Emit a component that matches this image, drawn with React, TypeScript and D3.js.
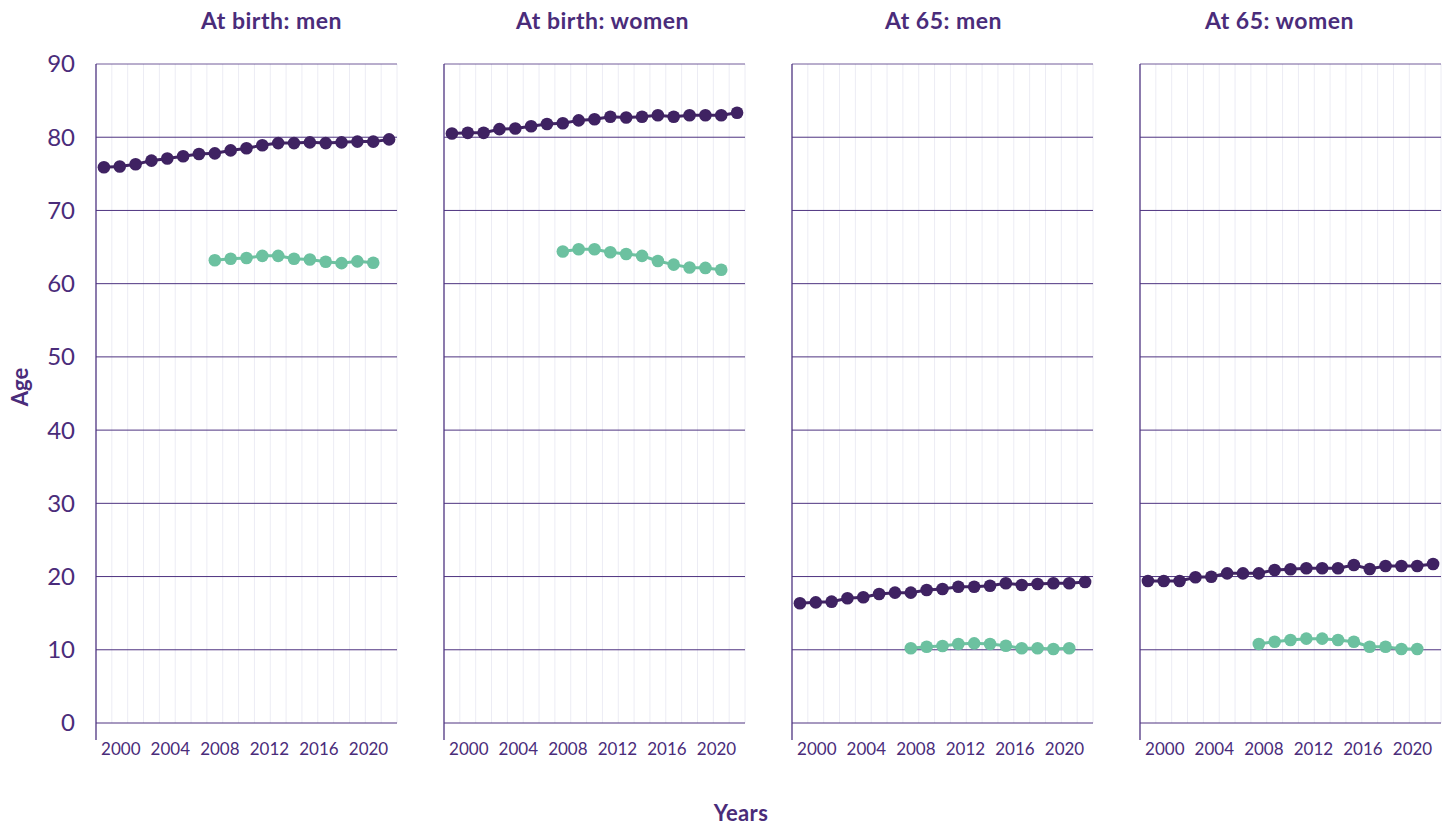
import React from "react";
import * as d3 from "d3";

// ---- data ----
const periods: string[] = [
  "P01", "P02", "P03", "P04", "P05", "P06", "P07", "P08", "P09", "P10",
  "P11", "P12", "P13", "P14", "P15", "P16", "P17", "P18", "P19",
];
const panelTitles: string[] = ["At birth: men", "At birth: women", "At 65: men", "At 65: women"];

// life expectancy (purple), all 19 periods
const leBirthMen: number[] = [75.9, 76.0, 76.3, 76.8, 77.1, 77.4, 77.7, 77.8, 78.2, 78.5, 78.9, 79.2, 79.2, 79.3, 79.2, 79.3, 79.4, 79.4, 79.7];
const leBirthWomen: number[] = [80.5, 80.6, 80.6, 81.1, 81.2, 81.5, 81.8, 81.9, 82.3, 82.45, 82.8, 82.7, 82.8, 83.0, 82.8, 83.0, 83.0, 83.0, 83.35];
const le65Men: number[] = [16.35, 16.48, 16.57, 17.03, 17.17, 17.62, 17.8, 17.8, 18.16, 18.3, 18.6, 18.6, 18.75, 19.08, 18.85, 18.98, 19.08, 19.08, 19.26];
const le65Women: number[] = [19.39, 19.39, 19.39, 19.9, 19.98, 20.44, 20.44, 20.44, 20.9, 20.99, 21.13, 21.13, 21.13, 21.58, 21.03, 21.44, 21.44, 21.44, 21.72];

// healthy life expectancy (green), periods 8..18
const hleStart = 7;
const hleBirthMen: number[] = [63.2, 63.4, 63.5, 63.8, 63.8, 63.4, 63.3, 63.0, 62.8, 63.05, 62.85];
const hleBirthWomen: number[] = [64.4, 64.7, 64.7, 64.3, 64.05, 63.8, 63.1, 62.6, 62.2, 62.15, 61.9];
const hle65Men: number[] = [10.2, 10.42, 10.52, 10.79, 10.88, 10.79, 10.56, 10.2, 10.2, 10.1, 10.2];
const hle65Women: number[] = [10.79, 11.1, 11.34, 11.52, 11.52, 11.34, 11.1, 10.42, 10.42, 10.11, 10.11];

const yTicks: number[] = [0, 10, 20, 30, 40, 50, 60, 70, 80, 90];
const xTickYears: number[] = [2000, 2004, 2008, 2012, 2016, 2020];

const leSeries: number[][] = [leBirthMen, leBirthWomen, le65Men, le65Women];
const hleSeries: number[][] = [hleBirthMen, hleBirthWomen, hle65Men, hle65Women];

// ---- styling / layout ----
const W = 1445;
const H = 826;
const PURPLE = "#3f2262";
const GREEN = "#6cc1a0";
const TEXT = "#4a2c7a";
const GRID_H = "#4e3380";
const GRID_V = "#ececf4";
const panelStep = 348;
const panelLeft0 = 96;
const panelW = 301;
const yTop = 64;
const yBottom = 723;
const titleOffsets = [25, 8, 1, -11];
const FONT = "Lato, 'Open Sans', sans-serif";

export default function App() {
  const y = d3.scaleLinear().domain([0, 90]).range([yBottom, yTop]);
  const band = d3.scaleBand<string>().domain(periods).range([0, panelW]).padding(0);
  const bw = band.bandwidth();
  const xYear = d3.scaleLinear().domain([1998, 2022.3]).range([0, panelW]);
  const cx = (p: string) => (band(p) as number) + bw / 2;

  const line = d3
    .line<{ p: string; v: number }>()
    .x((d) => cx(d.p))
    .y((d) => y(d.v));

  const edges = periods.map((p) => band(p) as number).concat([panelW]);

  return (
    <svg
      width={W}
      height={H}
      style={{ position: "absolute", left: 0, top: 0, background: "#fff" }}
      fontFamily={FONT}
    >
      {panelTitles.map((title, i) => {
        const left = panelLeft0 + i * panelStep;
        const le = leSeries[i].map((v, k) => ({ p: periods[k], v }));
        const hle = hleSeries[i].map((v, k) => ({ p: periods[k + hleStart], v }));
        return (
          <g key={title} transform={`translate(${left},0)`}>
            {edges.slice(1).map((e, k) => (
              <line key={"v" + k} x1={e} x2={e} y1={yTop} y2={yBottom} stroke={GRID_V} strokeWidth={1} />
            ))}
            {yTicks.map((t) => (
              <line
                key={"h" + t}
                x1={0}
                x2={panelW}
                y1={y(t)}
                y2={y(t)}
                stroke={GRID_H}
                strokeWidth={t === 90 ? 0.8 : 1}
              />
            ))}
            <line x1={0} x2={0} y1={yTop} y2={740} stroke={GRID_H} strokeWidth={1.3} />
            {xTickYears.map((yr) => (
              <text key={yr} x={xYear(yr)} y={755} textAnchor="middle" fontSize={17} fill={TEXT}>
                {yr}
              </text>
            ))}
            <path d={line(hle) || ""} fill="none" stroke={GREEN} strokeWidth={3} />
            {hle.map((d) => (
              <circle key={"g" + d.p} cx={cx(d.p)} cy={y(d.v)} r={6.3} fill={GREEN} />
            ))}
            <path d={line(le) || ""} fill="none" stroke={PURPLE} strokeWidth={3} />
            {le.map((d) => (
              <circle key={"p" + d.p} cx={cx(d.p)} cy={y(d.v)} r={6.3} fill={PURPLE} />
            ))}
            <text
              x={panelW / 2 + titleOffsets[i]}
              y={29}
              textAnchor="middle"
              fontSize={23}
              letterSpacing={0.5}
              fontWeight={700}
              fill={TEXT}
            >
              {title}
            </text>
          </g>
        );
      })}
      {yTicks.map((t) => (
        <text key={"yl" + t} x={75} y={y(t)} dy="0.35em" textAnchor="end" fontSize={24} fill={TEXT}>
          {t}
        </text>
      ))}
      <text
        transform={`translate(28,387) rotate(-90)`}
        textAnchor="middle"
        fontSize={22}
        fontWeight={700}
        fill={TEXT}
      >
        Age
      </text>
      <text x={741} y={821} textAnchor="middle" fontSize={22} fontWeight={700} letterSpacing={0.4} fill={TEXT}>
        Years
      </text>
    </svg>
  );
}
